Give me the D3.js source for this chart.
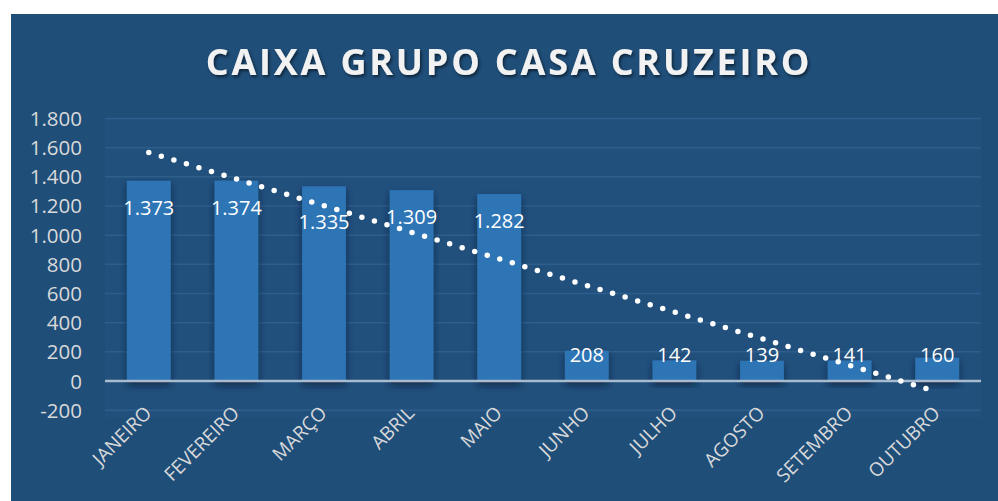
<!DOCTYPE html>
<html><head><meta charset="utf-8">
<script src="https://cdn.jsdelivr.net/npm/d3@7"></script>
<style>
html,body{margin:0;padding:0;background:#fff;}
svg{display:block;}
</style></head>
<body>
<script>
const title = "CAIXA GRUPO CASA CRUZEIRO";
const months = ["JANEIRO","FEVEREIRO","MARÇO","ABRIL","MAIO","JUNHO","JULHO","AGOSTO","SETEMBRO","OUTUBRO"];
const caixa = [1373,1374,1335,1309,1282,208,142,139,141,160];
const yTicks = [-200,0,200,400,600,800,1000,1200,1400,1600,1800];
const labelNudge = [0,0,9,0,0,0,0,0,0,0];

const fmt = d => d3.format(",")(d).replace(/,/g,".").replace("\u2212","-");

const W = 998, H = 501;
const svg = d3.select("body").append("svg").attr("width", W).attr("height", H);
const defs = svg.append("defs");
const f = defs.append("filter").attr("id","shadow").attr("x","-30%").attr("y","-30%").attr("width","160%").attr("height","160%");
f.append("feDropShadow").attr("dx",0).attr("dy",4).attr("stdDeviation",3.5).attr("flood-color","#0a1f33").attr("flood-opacity",0.7);
const tf = defs.append("filter").attr("id","tshadow").attr("x","-10%").attr("y","-30%").attr("width","120%").attr("height","160%");
tf.append("feDropShadow").attr("dx",1.5).attr("dy",2).attr("stdDeviation",1.5).attr("flood-color","#000").attr("flood-opacity",0.55);

svg.append("rect").attr("x",11).attr("y",14).attr("width",W-11).attr("height",H-14).attr("fill","#1F4E79");

const left = 105, right = 981;
const x = d3.scaleBand().domain(months).range([left, right]).paddingInner(0.5).paddingOuter(0.25);
const y = d3.scaleLinear().domain([-200, 1800]).range([410.2, 118.5]);

svg.append("rect").attr("x",left).attr("y",y(1800)).attr("width",right-left).attr("height",y(-200)-y(1800)+8).attr("fill","#21507D");

// gridlines
svg.append("g").selectAll("line").data(yTicks.filter(d=>d!==0)).join("line")
  .attr("x1",left).attr("x2",right).attr("y1",d=>y(d)).attr("y2",d=>y(d))
  .attr("stroke","#2F5E8C").attr("stroke-width",1.5);

// y axis labels
const yAxis = d3.axisLeft(y).tickValues(yTicks).tickSize(0).tickPadding(0).tickFormat(fmt);
const ga = svg.append("g").attr("transform",`translate(82,0)`).call(yAxis);
ga.select(".domain").remove();
ga.selectAll("text").attr("fill","#D9D9D9").attr("font-family","'Open Sans', sans-serif").attr("font-size",20.5).attr("dy","0.34em");

// bars
svg.append("g").selectAll("rect").data(caixa).join("rect")
  .attr("x",(d,i)=>x(months[i])).attr("width",x.bandwidth())
  .attr("y",d=>y(d)).attr("height",d=>y(0)-y(d))
  .attr("fill","#2E75B6").attr("filter","url(#shadow)");

// zero line
svg.append("line").attr("x1",left).attr("x2",right).attr("y1",y(0)).attr("y2",y(0))
  .attr("stroke","#A8BBCF").attr("stroke-width",2.5);

// trendline (linear regression of series)
const xs = caixa.map((d,i)=>i+1);
const mx = d3.mean(xs), my = d3.mean(caixa);
const slope = d3.sum(xs.map((v,i)=>(v-mx)*(caixa[i]-my))) / d3.sum(xs.map(v=>(v-mx)*(v-mx)));
const icpt = my - slope*mx;
const cx = i => x(months[i]) + x.bandwidth()/2;
svg.append("line")
  .attr("x1",cx(0)).attr("y1",y(icpt+slope*1))
  .attr("x2",cx(9)).attr("y2",y(icpt+slope*10))
  .attr("stroke","#fff").attr("stroke-width",5.5).attr("stroke-linecap","round")
  .attr("stroke-dasharray","0 13.1");

// data labels
svg.append("g").selectAll("text").data(caixa).join("text")
  .attr("x",(d,i)=>cx(i)).attr("y",(d,i)=>Math.min(y(d)+27, y(0)-26) + labelNudge[i])
  .attr("dy","0.35em").attr("text-anchor","middle")
  .attr("fill","#fff").attr("font-family","'Open Sans', sans-serif").attr("font-size",20)
  .text(fmt);

// x labels
svg.append("g").selectAll("text").data(months).join("text")
  .attr("transform",(d,i)=>`translate(${cx(i)+4},${y(-200)+4}) rotate(-45)`)
  .attr("text-anchor","end")
  .attr("fill","#D9D9D9").attr("font-family","'Open Sans', sans-serif").attr("font-size",19)
  .text(d=>d);

// title
svg.append("text").attr("x",509).attr("y",75).attr("text-anchor","middle")
  .attr("fill","#F2F2F2").attr("font-family","'Open Sans', sans-serif").attr("font-weight","bold")
  .attr("font-size",36).attr("letter-spacing",2.8).attr("filter","url(#tshadow)")
  .text(title);
</script>
</body></html>
